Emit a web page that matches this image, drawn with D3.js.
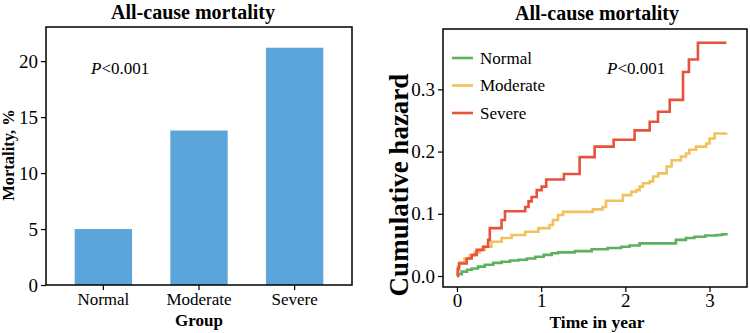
<!DOCTYPE html>
<html>
<head>
<meta charset="utf-8">
<script src="https://cdn.jsdelivr.net/npm/d3@7"></script>
<style>
  html, body { margin: 0; padding: 0; background: #fff; }
  svg { display: block; font-family: "Liberation Serif", "Times New Roman", serif; }
  .frame { fill: none; stroke: #000; stroke-width: 1.5; }
  .axis path { display: none; }
  .axis line { stroke: #000; stroke-width: 1.2; }
  .axis text { font-family: "Liberation Serif", serif; font-size: 19px; fill: #000; }
  .axis.cat text { font-size: 17px; }
  .title, .label { font-weight: bold; fill: #000; }
</style>
</head>
<body>
<svg id="chart" width="750" height="333"></svg>
<script>

// Left panel: crude mortality by group.
var groups = ['Normal', 'Moderate', 'Severe'];
var mortality = [5.0, 13.8, 21.2];
var mortalityTicks = [0, 5, 10, 15, 20];

// Right panel: cumulative hazard step curves.
var normalTime = [0, 0.01, 0.056, 0.12, 0.175, 0.25, 0.33, 0.43, 0.53, 0.63,
  0.73, 0.83, 0.93, 1.03, 1.125, 1.2, 1.4, 1.6, 1.79, 1.95, 2.05, 2.17, 2.45,
  2.6, 2.72, 2.82, 2.95, 3.08, 3.15, 3.2];
var normalHaz = [0, 0.003, 0.007, 0.010, 0.012, 0.015, 0.018, 0.021, 0.023,
  0.025, 0.026, 0.028, 0.031, 0.034, 0.0365, 0.038, 0.040, 0.043, 0.045, 0.047,
  0.049, 0.0525, 0.0525, 0.058, 0.061, 0.063, 0.065, 0.066, 0.067, 0.069];

var moderateTime = [0, 0.01, 0.03, 0.09, 0.15, 0.21, 0.27, 0.33, 0.41, 0.53,
  0.65, 0.81, 0.967, 1.10, 1.14, 1.2, 1.26, 1.615, 1.73, 1.77, 1.97, 2.07,
  2.13, 2.17, 2.21, 2.29, 2.33, 2.39, 2.49, 2.55, 2.66, 2.72, 2.76, 2.84, 2.96,
  3.0, 3.06, 3.2];
var moderateHaz = [0, 0.015, 0.022, 0.028, 0.033, 0.038, 0.042, 0.047, 0.055,
  0.061, 0.066, 0.071, 0.077, 0.082, 0.09, 0.098, 0.103, 0.107, 0.111, 0.121,
  0.13, 0.1355, 0.138, 0.1436, 0.149, 0.152, 0.16, 0.165, 0.176, 0.186, 0.192,
  0.197, 0.203, 0.208, 0.213, 0.221, 0.229, 0.23];

var severeTime = [0, 0.01, 0.024, 0.115, 0.175, 0.234, 0.31, 0.37, 0.39, 0.53,
  0.57, 0.81, 0.85, 0.887, 0.947, 1.006, 1.06, 1.27, 1.457, 1.635, 1.861, 2.11,
  2.289, 2.388, 2.527, 2.685, 2.755, 2.862, 3.2];
var severeHaz = [0, 0.011, 0.020, 0.028, 0.034, 0.042, 0.047, 0.058, 0.077,
  0.09, 0.104, 0.111, 0.120, 0.127, 0.138, 0.1436, 0.155, 0.164, 0.191, 0.208,
  0.219, 0.234, 0.248, 0.264, 0.283, 0.328, 0.348, 0.375, 0.375];

var timeTicks = [0, 1, 2, 3];
var hazardTicks = [0, 0.1, 0.2, 0.3];
var lineColors = ['#5cb15c', '#f1c15e', '#e8523b'];
var barColor = '#5ca5db';

var svg = d3.select('#chart');


/**
 * Bar panel.
 */
(function() {

  var left = 46, right = 352, top = 27, bottom = 285;

  var x = d3.scaleBand().domain(groups).range([left, right])
    .paddingInner(0.4).paddingOuter(0.3);
  var y = d3.scaleLinear().domain([0, 23.05]).range([bottom, top]);

  var g = svg.append('g');

  g.selectAll('rect.bar').data(groups).enter().append('rect')
    .attr('class', 'bar')
    .attr('x', function(d) { return x(d); })
    .attr('width', x.bandwidth())
    .attr('y', function(d, i) { return y(mortality[i]); })
    .attr('height', function(d, i) { return y(0) - y(mortality[i]); })
    .attr('fill', barColor);

  g.append('g').attr('class', 'axis')
    .attr('transform', 'translate(' + left + ',0)')
    .call(d3.axisLeft(y).tickValues(mortalityTicks).tickSize(5)
      .tickPadding(3).tickFormat(d3.format('d')));

  g.append('g').attr('class', 'axis cat')
    .attr('transform', 'translate(0,' + bottom + ')')
    .call(d3.axisBottom(x).tickSize(5).tickPadding(3));

  g.append('rect').attr('class', 'frame')
    .attr('x', left).attr('y', top)
    .attr('width', right - left).attr('height', bottom - top);

  g.append('text').attr('class', 'title')
    .attr('x', 193).attr('y', 19).attr('text-anchor', 'middle')
    .style('font-size', '20px').text('All-cause mortality');

  g.append('text').attr('class', 'label')
    .attr('x', 199).attr('y', 326).attr('text-anchor', 'middle')
    .style('font-size', '17px').text('Group');

  g.append('text').attr('class', 'label')
    .attr('transform', 'translate(13.5,155) rotate(-90)')
    .attr('text-anchor', 'middle')
    .style('font-size', '16.5px').text('Mortality, %');

  var p = g.append('text').attr('x', 91).attr('y', 74)
    .style('font-size', '17px');
  p.append('tspan').style('font-style', 'italic').text('P');
  p.append('tspan').text('<0.001');

})();


/**
 * Cumulative hazard panel.
 */
(function() {

  var left = 443, right = 747, top = 29, bottom = 287;

  var x = d3.scaleLinear().domain([-0.166, 3.445]).range([left, right]);
  var y = d3.scaleLinear().domain([-0.0177, 0.397]).range([bottom, top]);

  var g = svg.append('g');

  var series = [
    { times: normalTime, haz: normalHaz },
    { times: moderateTime, haz: moderateHaz },
    { times: severeTime, haz: severeHaz }
  ];

  var line = d3.line()
    .x(function(d) { return x(d[0]); })
    .y(function(d) { return y(d[1]); })
    .curve(d3.curveStepAfter);

  series.forEach(function(s, i) {
    var pts = d3.zip(s.times, s.haz);
    g.append('path').attr('d', line(pts))
      .attr('fill', 'none').attr('stroke', lineColors[i])
      .attr('stroke-width', 2.6).attr('stroke-linejoin', 'miter');
  });

  g.append('g').attr('class', 'axis')
    .attr('transform', 'translate(' + left + ',0)')
    .call(d3.axisLeft(y).tickValues(hazardTicks).tickSize(5)
      .tickPadding(3).tickFormat(d3.format('.1f')));

  g.append('g').attr('class', 'axis')
    .attr('transform', 'translate(0,' + bottom + ')')
    .call(d3.axisBottom(x).tickValues(timeTicks).tickSize(5)
      .tickPadding(2).tickFormat(d3.format('d')));

  g.append('rect').attr('class', 'frame')
    .attr('x', left).attr('y', top)
    .attr('width', right - left).attr('height', bottom - top);

  g.append('text').attr('class', 'title')
    .attr('x', 597).attr('y', 20).attr('text-anchor', 'middle')
    .style('font-size', '20px').text('All-cause mortality');

  g.append('text').attr('class', 'label')
    .attr('x', 597).attr('y', 328).attr('text-anchor', 'middle')
    .style('font-size', '17.5px').text('Time in year');

  g.append('text').attr('class', 'label')
    .attr('transform', 'translate(408,185) rotate(-90)')
    .attr('text-anchor', 'middle')
    .style('font-size', '27px').text('Cumulative hazard');

  var p = g.append('text').attr('x', 607).attr('y', 74)
    .style('font-size', '17px');
  p.append('tspan').style('font-style', 'italic').text('P');
  p.append('tspan').text('<0.001');

  // Legend.
  var legend = g.selectAll('g.key').data(groups).enter().append('g')
    .attr('class', 'key')
    .attr('transform', function(d, i) {
      return 'translate(452,' + (58 + i * 27.5) + ')';
    });
  legend.append('line').attr('x1', 0).attr('x2', 21)
    .attr('stroke', function(d, i) { return lineColors[i]; })
    .attr('stroke-width', 2.6);
  legend.append('text').attr('x', 28).attr('dy', '0.35em')
    .style('font-size', '17px').text(function(d) { return d; });

})();

</script>
</body>
</html>
